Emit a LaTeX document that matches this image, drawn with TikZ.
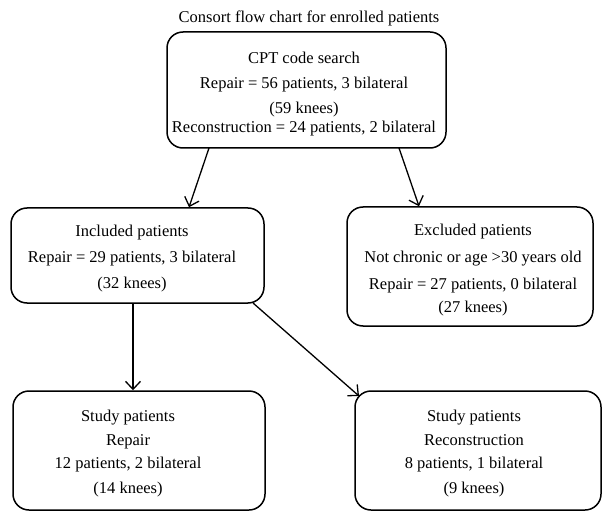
\documentclass[tikz,border=0pt]{standalone}
\usepackage{fontspec}
\setmainfont{Liberation Serif}
\usetikzlibrary{arrows.meta}
\tikzset{
  box/.style={draw=black, line width=1.5pt, rounded corners=16pt, inner sep=0pt},
  txt/.style={align=center, inner sep=0pt, font=\fontsize{16.5}{25}\selectfont},
  conn/.style={draw=black, line width=1.3pt, -{Straight Barb[length=8pt,width=15pt,line width=1.3pt]}},
}
\begin{document}
\begin{tikzpicture}[x=1pt,y=-1pt]
\useasboundingbox (0,0) rectangle (612,521);
\node[txt] (title) at (309,18) {Consort flow chart for enrolled patients};
% boxes
\node[box, minimum width=279pt, minimum height=116pt] (top) at (306.5,90) {};
\node[box, minimum width=253pt, minimum height=95pt] (inc) at (137.5,255.5) {};
\node[box, minimum width=246pt, minimum height=119pt] (exc) at (470,266.5) {};
\node[box, minimum width=252pt, minimum height=119pt] (sr) at (139,450.5) {};
\node[box, minimum width=246pt, minimum height=119pt] (sc) at (478,450.5) {};
% texts
\node[txt, anchor=north] (toptxt) at (304,52) {CPT code search\\ Repair = 56 patients, 3 bilateral\\ (59 knees)\\[-6pt] Reconstruction = 24 patients, 2 bilateral};
\node[txt, anchor=north] (inctxt) at (132,225) {Included patients\\[1pt] Repair = 29 patients, 3 bilateral\\[1pt] (32 knees)};
\node[txt, anchor=north] (exctxt) at (473,224) {Excluded patients\\[2pt] Not chronic or age {>}30 years old\\[2pt] Repair = 27 patients, 0 bilateral\\[-2pt] (27 knees)};
\node[txt, anchor=north] (srtxt) at (128,410) {Study patients\\[-1pt] Repair\\[-2pt] 12 patients, 2 bilateral\\ (14 knees)};
\node[txt, anchor=north] (sctxt) at (474,410) {Study patients\\[-1pt] Reconstruction\\[-2pt] 8 patients, 1 bilateral\\ (9 knees)};
% connectors
\coordinate (a1s) at (209,148);
\coordinate (a2s) at (399,148);
\coordinate (a3s) at (133,303);
\coordinate (a4s) at (253,303);
\draw[conn] (a1s) -- (inc.north -| 189,0);
\draw[conn] (a2s) -- (exc.north -| 419,0);
\draw[conn] (a3s) -- (sr.north -| 133,0);
\draw[conn] (a4s) -- (359,396);
\end{tikzpicture}
\end{document}
